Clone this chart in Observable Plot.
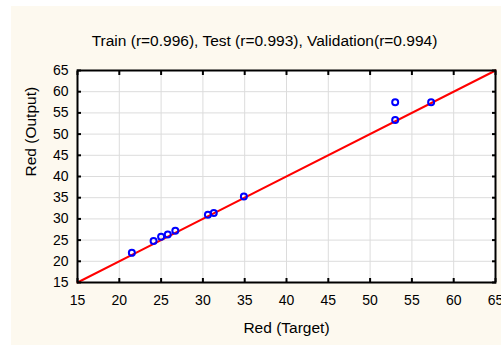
<!DOCTYPE html>
<html>
<head>
<meta charset="utf-8">
<script src="https://cdn.jsdelivr.net/npm/d3@7"></script>
<script src="https://cdn.jsdelivr.net/npm/@observablehq/plot@0.6"></script>
<style>
  html, body { margin: 0; padding: 0; background: #ffffff; width: 501px; height: 345px; overflow: hidden; }
  #panel { position: absolute; left: 11px; top: 6px; width: 490px; height: 339px; background: #fdf9ef; }
  #title { position: absolute; left: 0; top: 26px; width: 507px; text-align: center;
           font: 15.5px "Liberation Sans", Arial, sans-serif; line-height: 18px; color: #000; white-space: nowrap; }
  #chart { position: absolute; left: 0; top: 50px; }
</style>
</head>
<body>
<div id="panel">
  <div id="title">Train (r=0.996), Test (r=0.993), Validation(r=0.994)</div>
  <div id="chart"></div>
</div>
<script>
// Data
const target = [21.5, 24.1, 25.0, 25.8, 26.7, 30.6, 31.3, 34.9, 53.0, 53.0, 57.3];
const output = [22.0, 24.8, 25.8, 26.3, 27.2, 31.0, 31.4, 35.3, 57.5, 53.3, 57.5];
// Fit line: Output = Target across the axis range
const fitRange = [15, 65];
const xTicks = [15, 20, 25, 30, 35, 40, 45, 50, 55, 60, 65];
const yTicks = [15, 20, 25, 30, 35, 40, 45, 50, 55, 60, 65];
const xLabel = "Red (Target)";
const yLabel = "Red (Output)";

const points = target.map((t, i) => ({target: t, output: output[i]}));
const gridColor = "#dcdcdc";

const chart = Plot.plot({
  width: 490,
  height: 289,
  marginLeft: 66,
  marginRight: 6,
  marginTop: 14,
  marginBottom: 63,
  style: {fontFamily: '"Liberation Sans", Arial, sans-serif', fontSize: "14px", background: "transparent", color: "#000", overflow: "visible"},
  x: {domain: [15, 65]},
  y: {domain: [15, 65]},
  marks: [
    Plot.frame({fill: "white", stroke: null}),
    Plot.gridX(xTicks, {stroke: gridColor, strokeOpacity: 1, strokeWidth: 1}),
    Plot.gridY(yTicks, {stroke: gridColor, strokeOpacity: 1, strokeWidth: 1}),
    Plot.line(fitRange, {x: d => d, y: d => d, stroke: "#ff0000", strokeWidth: 2}),
    Plot.dot(points, {x: "target", y: "output", r: 3, stroke: "#0000ff", strokeWidth: 2, fill: "none"}),
    // inward ticks on all four sides
    Plot.axisX(xTicks, {anchor: "bottom", tickSize: 4, dy: -4, fill: "none", stroke: "black", strokeWidth: 2, label: null}),
    Plot.axisX(xTicks, {anchor: "top", tickSize: 4, dy: 4, fill: "none", stroke: "black", strokeWidth: 2, label: null}),
    Plot.axisY(yTicks, {anchor: "left", tickSize: 4, dx: 4, fill: "none", stroke: "black", strokeWidth: 2, label: null}),
    Plot.axisY(yTicks, {anchor: "right", tickSize: 4, dx: -4, fill: "none", stroke: "black", strokeWidth: 2, label: null}),
    // tick labels
    Plot.axisX(xTicks, {anchor: "bottom", tickSize: 0, tickPadding: 13, fill: "black", label: null}),
    Plot.axisY(yTicks, {anchor: "left", tickSize: 0, tickPadding: 9, fill: "black", label: null}),
    // axis titles
    Plot.text([xLabel], {frameAnchor: "bottom", text: d => d, dy: 50, fill: "black", fontSize: 15.5}),
    Plot.text([yLabel], {frameAnchor: "left", text: d => d, rotate: -90, dx: -46, fill: "black", fontSize: 15.5}),
    Plot.frame({stroke: "black", strokeWidth: 2})
  ]
});
document.getElementById("chart").appendChild(chart);
</script>
</body>
</html>
